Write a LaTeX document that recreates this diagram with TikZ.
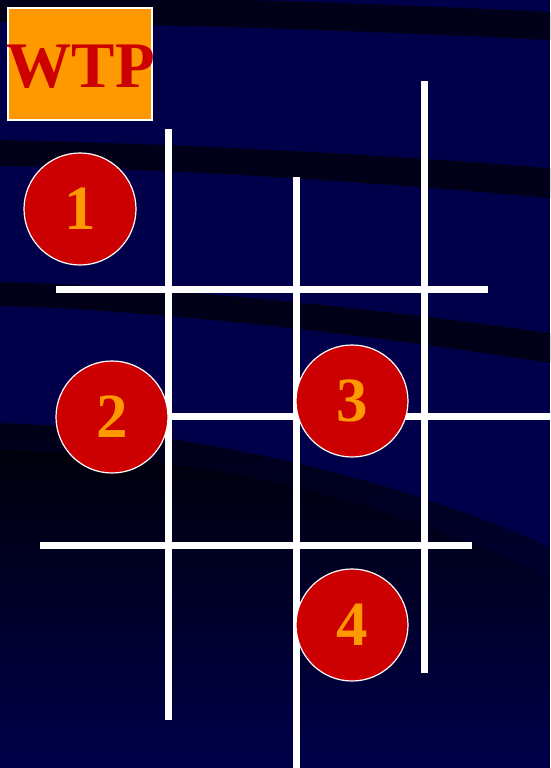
\documentclass[tikz,border=0pt]{standalone}
\usepackage{fontspec}
\setmainfont{Liberation Serif}
\usetikzlibrary{positioning}
\definecolor{wtNavy}{HTML}{00004A}
\definecolor{wtDark}{HTML}{000018}
\definecolor{wtDeep}{HTML}{00000C}
\definecolor{wtRed}{HTML}{CC0000}
\definecolor{wtOrange}{HTML}{FF9900}
\tikzset{
  wtlogo/.style={rectangle,draw=white,line width=1.5pt,fill=wtOrange,text=wtRed,font=\bfseries\fontsize{64}{64}\selectfont,minimum width=144pt,minimum height=112pt,inner sep=0pt},
  wtdisc/.style={circle,draw=white,line width=1.2pt,fill=wtRed,text=wtOrange,font=\bfseries\fontsize{63}{63}\selectfont,minimum size=112pt,inner sep=0pt},
  wtbar/.style={draw=white,line width=7pt},
  wtband/.style={fill=wtDark}
}
\begin{document}
\begin{tikzpicture}[x=1pt,y=-1pt]
\useasboundingbox (0,0) rectangle (550,768);

% ---- FONDO ----
\fill[wtNavy] (0,0) rectangle (550,768);
\fill[wtband] (0,0) -- (250,0) .. controls (350,3) and (450,7) .. (550,12) -- (550,40) .. controls (350,30) and (150,24) .. (0,22) -- cycle;
\fill[wtband] (0,140) .. controls (150,143) and (350,152) .. (550,168) -- (550,198) .. controls (350,180) and (150,168) .. (0,166) -- cycle;
\fill[wtband] (0,282) .. controls (150,286) and (350,305) .. (550,333) -- (550,363) .. controls (350,332) and (150,310) .. (0,306) -- cycle;
\shade[top color=wtDark,bottom color=wtNavy] (0,423) .. controls (200,430) and (400,480) .. (550,547) -- (550,768) -- (0,768) -- cycle;
\shade[top color=wtDeep,bottom color=wtNavy] (0,450) .. controls (200,455) and (400,500) .. (550,580) -- (550,768) -- (0,768) -- cycle;

% ---- REJILLA ----
\draw[wtbar] (168,129) -- (168,720);
\draw[wtbar] (296,177) -- (296,768);
\draw[wtbar] (424,81) -- (424,673);
\draw[wtbar] (56,289) -- (488,289);
\draw[wtbar] (150,416) -- (550,416);
\draw[wtbar] (40,545) -- (472,545);

% ---- LOGO ----
\node[wtlogo] (logo) at (80,64) {};
\node[text=wtRed,font=\bfseries\fontsize{65}{65}\selectfont,inner sep=0pt] (logotxt) at (81,67) {WTP};

% ---- CASILLAS NUMERADAS ----
\node[wtdisc] (d1) at (80,209) {1};
\node[wtdisc] (d2) at (112,417) {2};
\node[wtdisc] (d3) at (352,401) {3};
\node[wtdisc] (d4) at (352,625) {4};

\end{tikzpicture}
\end{document}
